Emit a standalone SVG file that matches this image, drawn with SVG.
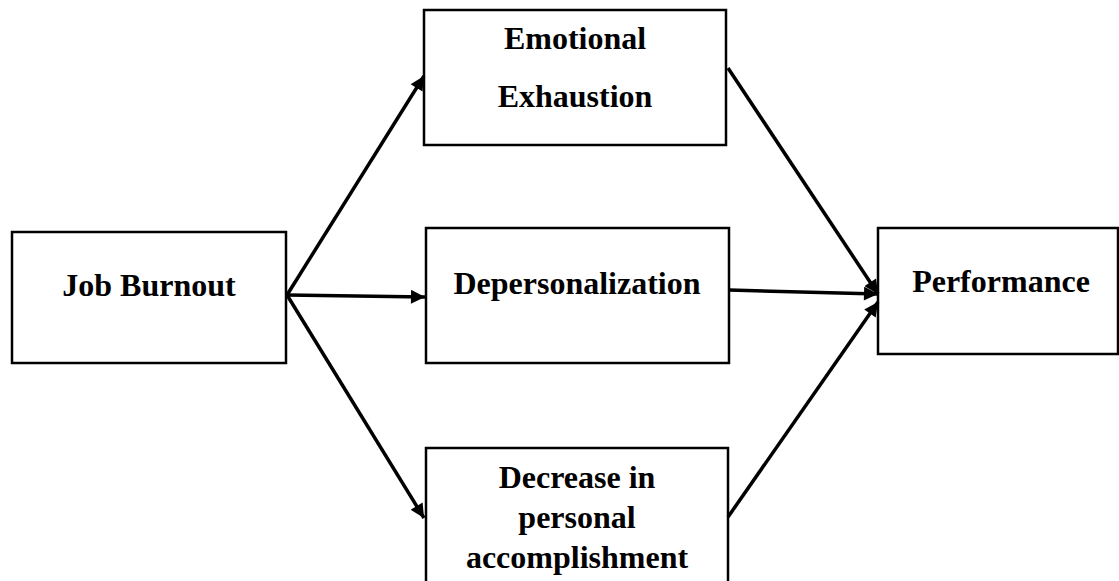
<svg xmlns="http://www.w3.org/2000/svg" width="1119" height="581" viewBox="0 0 1119 581">
<style>
.box{fill:#fff;stroke:#000;stroke-width:2.5}
.lbl{font-family:"Liberation Serif","Times New Roman",serif;font-weight:bold;font-size:32px;fill:#000;text-anchor:middle}
.conn{stroke:#000;stroke-width:3.5;fill:none}
</style>
<defs>
<marker id="arr" viewBox="0 0 10 10" refX="10" refY="5" markerWidth="4.3" markerHeight="4" orient="auto" markerUnits="strokeWidth">
<path d="M0,0 L10,5 L0,10 z" fill="#000"/>
</marker>
</defs>
<rect width="1119" height="581" fill="#fff"/>
<g id="node-job-burnout">
<rect class="box" x="12" y="232" width="274" height="131"/>
<text class="lbl" x="149" y="296">Job Burnout</text>
</g>
<g id="node-emotional-exhaustion">
<rect class="box" x="424" y="10" width="302" height="135"/>
<text class="lbl" x="575" y="49">Emotional</text>
<text class="lbl" x="575" y="107">Exhaustion</text>
</g>
<g id="node-depersonalization">
<rect class="box" x="426" y="228" width="303" height="135"/>
<text class="lbl" x="577" y="294">Depersonalization</text>
</g>
<g id="node-decrease">
<rect class="box" x="426" y="448" width="302" height="140"/>
<text class="lbl" x="577" y="488">Decrease in</text>
<text class="lbl" x="577" y="528">personal</text>
<text class="lbl" x="577" y="568">accomplishment</text>
</g>
<g id="node-performance">
<rect class="box" x="878" y="228" width="240" height="126"/>
<text class="lbl" x="1001" y="292">Performance</text>
</g>
<g id="connectors">
<line class="conn" x1="287" y1="295" x2="424" y2="76" marker-end="url(#arr)"/>
<line class="conn" x1="287" y1="295" x2="425" y2="297" marker-end="url(#arr)"/>
<line class="conn" x1="287" y1="295" x2="424" y2="518" marker-end="url(#arr)"/>
<line class="conn" x1="728" y1="68" x2="878" y2="294" marker-end="url(#arr)"/>
<line class="conn" x1="729" y1="290" x2="878" y2="294" marker-end="url(#arr)"/>
<line class="conn" x1="728" y1="517" x2="878" y2="302" marker-end="url(#arr)"/>
</g>
</svg>
